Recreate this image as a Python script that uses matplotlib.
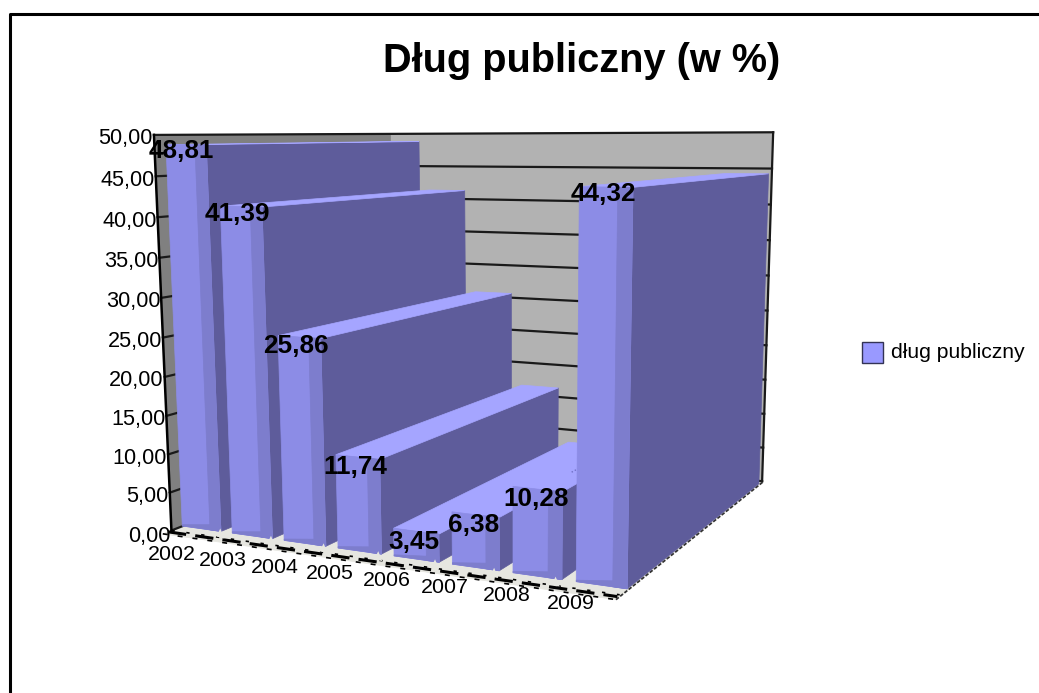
import numpy as np
import matplotlib
matplotlib.use('Agg')
import matplotlib.pyplot as plt
from matplotlib.patches import Polygon, Rectangle

plt.rcParams['font.family'] = ['Liberation Sans', 'DejaVu Sans']

years = ['2002', '2003', '2004', '2005', '2006', '2007', '2008', '2009']
debt = [48.81, 41.39, 25.86, 11.74, 3.45, 6.38, 10.28, 44.32]
debt_labels = ['48,81', '41,39', '25,86', '11,74', '3,45', '6,38', '10,28', '44,32']
y_ticks = [0, 5, 10, 15, 20, 25, 30, 35, 40, 45, 50]
y_tick_labels = ['0,00', '5,00', '10,00', '15,00', '20,00', '25,00', '30,00',
                 '35,00', '40,00', '45,00', '50,00']
legend_name = 'dług publiczny'
title = 'Dług publiczny (w %)'

# box corners: (category, depth, value) -> pixel, camera is fitted from these
box = [((0, 0, 0), (170, 528)), ((8, 0, 0), (623, 597)),
       ((8, 1, 0), (760, 479)), ((0, 1, 0), (396, 446)),
       ((0, 0, 50), (155, 138)), ((8, 0, 50), (623, 130)),
       ((8, 1, 50), (775, 135)), ((0, 1, 50), (390, 131))]

A, b = [], []
for (c, d, v), (px, py) in box:
    A.append([c, d, v, 1, 0, 0, 0, 0, -px * c, -px * d, -px * v])
    A.append([0, 0, 0, 0, c, d, v, 1, -py * c, -py * d, -py * v])
    b += [px, py]
m = np.linalg.lstsq(np.array(A, float), np.array(b, float), rcond=None)[0]
M = np.append(m, 1).reshape(3, 4)


def proj(c, d, v):
    x, y, w = M @ np.array([c, d, v, 1.0])
    return x / w, y / w


def face(ax, pts, color, z=2, **kw):
    ax.add_patch(Polygon([proj(*p) for p in pts], closed=True, fc=color, ec=color,
                         lw=0.5, zorder=z, **kw))


fig = plt.figure(figsize=(10.39, 6.93), dpi=100)
ax = fig.add_axes([0, 0, 1, 1])
ax.set_xlim(0, 1039)
ax.set_ylim(693, 0)
ax.axis('off')

# outer border
ax.plot([9.5, 9.5, 1039], [693, 13.5, 13.5], color='black', lw=2.2, zorder=1)

# walls and floor
face(ax, [(0, 1, 0), (8, 1, 0), (8, 1, 50), (0, 1, 50)], '#b2b2b2', 1)
face(ax, [(0, 0, 0), (0, 1, 0), (0, 1, 50), (0, 0, 50)], '#808080', 1)
face(ax, [(0, -0.03, 0), (8.03, -0.03, 0), (8.03, 1, 0), (0, 1, 0)], '#e6e6e0', 1)

for v in y_ticks:
    xs = [proj(0, 0, v), proj(0, 1, v), proj(8, 1, v)]
    ax.plot(*zip(*xs), color='#1a1a1a', lw=1.6, zorder=1.5)
p0, p1 = proj(0, 0, 0), proj(0, 0, 50)
ax.plot([p0[0], p1[0]], [p0[1], p1[1]], color='black', lw=1.8, zorder=1.5)
p0, p1 = proj(8, 1, 0), proj(8, 1, 50)
ax.plot([p0[0], p1[0]], [p0[1], p1[1]], color='#1a1a1a', lw=1.6, zorder=1.5)

# jagged floor edge
for off, ls, lw in [(-0.012, (0, (6, 3)), 2.2), (-0.03, (0, (3, 6)), 1.2), (0.0, (0, (2, 7)), 1.2)]:
    q0, q1 = proj(0, off, 0), proj(8, off, 0)
    ax.plot([q0[0], q1[0]], [q0[1], q1[1]], color='black', lw=lw, ls=ls, zorder=1.6)
q0, q1 = proj(8.03, -0.03, 0), proj(8.03, 1, 0)
ax.plot([q0[0], q1[0]], [q0[1], q1[1]], color='#333333', lw=1.3, ls=(0, (2, 1)), zorder=1.6)

# bars, left to right so later ones cover the side of earlier ones
light, mid, dark, top = '#8c8ce6', '#7d7dcd', '#5e5c9b', '#a5a5ff'
bar_start, bar_step, bar_width = -0.01, 1.03, 0.8
d0, d1 = 0.04, 0.97
for i, val in enumerate(debt):
    l = bar_start + bar_step * i
    r = l + bar_width
    s = r - 0.28 * (r - l)
    face(ax, [(r, d0, 0), (r, d1, 0), (r, d1, val), (r, d0, val)], dark, 3 + i)
    face(ax, [(l, d0, val), (r, d0, val), (r, d1, val), (l, d1, val)], top, 3 + i)
    face(ax, [(l, d0, 0), (r, d0, 0), (r, d0, val), (l, d0, val)], light, 3 + i)
    face(ax, [(s, d0, 0), (r, d0, 0), (r, d0, val), (s, d0, val)], mid, 3 + i)
    # darker foot of the front face
    foot = min(0.9, val * 0.2)
    face(ax, [(l, d0, 0), (r, d0, 0), (r, d0, foot), (l, d0, foot * 0.2)], mid, 3 + i)

# dotted streaks on the 2008 top face
for frac in [0.55, 0.8]:
    c = bar_start + bar_step * 6 + bar_width * frac
    q0, q1 = proj(c, 0.2, debt[6]), proj(c, 1.0, debt[6])
    ax.plot([q0[0], q1[0]], [q0[1], q1[1]], color='#6f6fc4', lw=1.0, ls=(0, (1, 1.5)), zorder=9.5)

# small light spikes on the floor at category boundaries
for i in range(1, 8):
    x, y = proj(i, 0, 0)
    ax.add_patch(Polygon([(x - 4, y - 1), (x + 4, y + 1), (x, y - 9)], closed=True,
                         fc='#e6e6e0', ec='none', zorder=20))

# labels
for i, v in enumerate(y_ticks):
    x, y = proj(0, 0, v)
    ax.text(x - 1, y + (6 if i == 0 else 4), y_tick_labels[i], ha='right',
            va='center', fontsize=15.6, color='black', zorder=30)
for i, yr in enumerate(years):
    x, y = proj(i + 0.5, 0, 0)
    ax.text(x - 24 + i, y + 20.5 - i, yr, ha='center', va='center', fontsize=15.4,
            color='black', zorder=30)
for i, val in enumerate(debt):
    x, y = proj(i + 0.5, 0, val)
    ax.text(x + 2 + 1.5 * i, y + 6, debt_labels[i], ha='center', va='center', fontsize=18.8,
            fontweight='bold', color='black', zorder=30)

ax.text(582, 61, title, ha='center', va='center', fontsize=28.6, fontweight='bold',
        color='black', zorder=30)

# legend
ax.add_patch(Rectangle((862, 342), 21, 21, fc='#9999ff', ec='#333355', lw=1.0, zorder=30))
ax.text(891, 353, legend_name, ha='left', va='center', fontsize=15.2, color='black', zorder=30)

fig.savefig('out.png', dpi=100)
